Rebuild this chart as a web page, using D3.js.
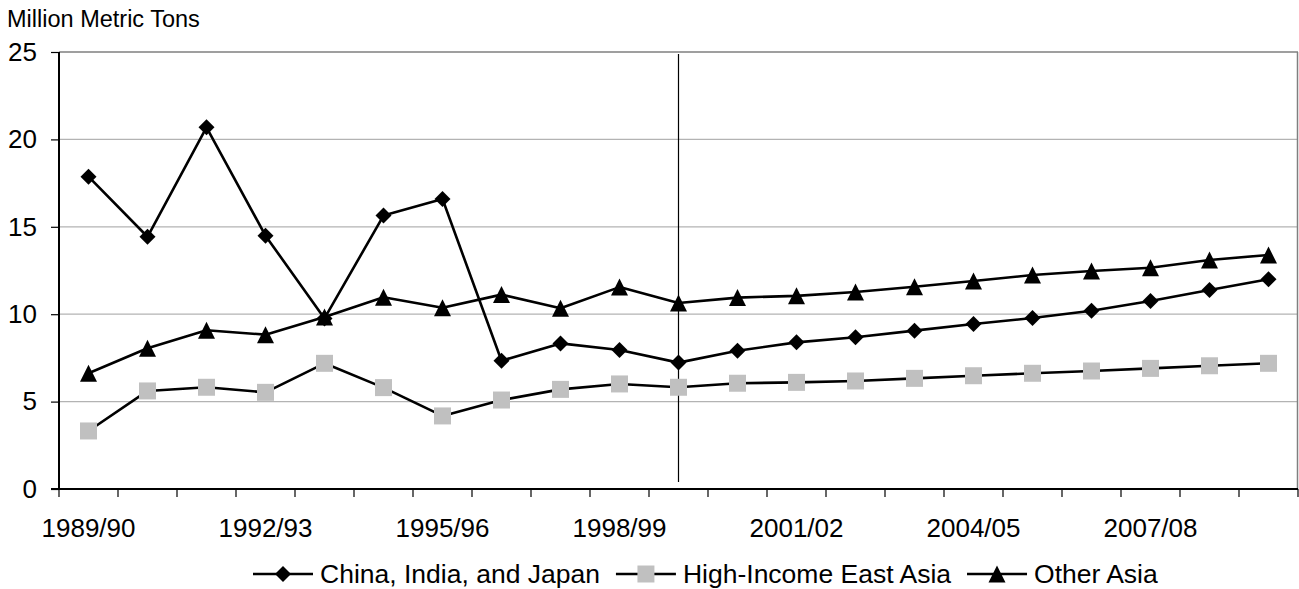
<!DOCTYPE html>
<html>
<head>
<meta charset="utf-8">
<script src="https://cdn.jsdelivr.net/npm/d3@7"></script>
<style>
  html, body { margin: 0; padding: 0; background: #ffffff; }
  svg { display: block; }
  text { font-family: "Liberation Sans", Arial, Helvetica, sans-serif; fill: #000; }
</style>
</head>
<body>
<svg id="chart" width="1299" height="589"></svg>
<script>
// ---- Data ----
const categories = ["1989/90","1990/91","1991/92","1992/93","1993/94","1994/95","1995/96",
  "1996/97","1997/98","1998/99","1999/00","2000/01","2001/02","2002/03","2003/04",
  "2004/05","2005/06","2006/07","2007/08","2008/09","2009/10"];
const tickLabels = ["1989/90","1992/93","1995/96","1998/99","2001/02","2004/05","2007/08"];
const yTicks = [0, 5, 10, 15, 20, 25];
const seriesNames = ["China, India, and Japan", "High-Income East Asia", "Other Asia"];
const chinaIndiaJapan = [17.87, 14.43, 20.69, 14.49, 9.76, 15.64, 16.59, 7.34, 8.33, 7.95, 7.23,
  7.91, 8.39, 8.68, 9.06, 9.44, 9.78, 10.2, 10.75, 11.38, 12.0];
const highIncomeEastAsia = [3.32, 5.61, 5.82, 5.53, 7.19, 5.8, 4.18, 5.09, 5.7, 6.01, 5.82,
  6.05, 6.1, 6.18, 6.33, 6.48, 6.62, 6.75, 6.9, 7.05, 7.19];
const otherAsia = [6.62, 8.05, 9.08, 8.83, 9.84, 10.97, 10.37, 11.12, 10.34, 11.55, 10.64,
  10.95, 11.05, 11.27, 11.57, 11.9, 12.24, 12.47, 12.66, 13.1, 13.39];
const dividerCategory = "1999/00";
const yTitle = "Million Metric Tons";

// ---- Layout ----
const svg = d3.select("#chart");
const pLeft = 59, pRight = 1298, pTop = 52, pBottom = 489;

const x = d3.scaleBand().domain(categories).range([pLeft, pRight]).paddingInner(0).paddingOuter(0);
const y = d3.scaleLinear().domain([0, 25]).range([pBottom, pTop]);
const cx = c => x(c) + x.bandwidth() / 2;

// gridlines
svg.append("g").selectAll("line").data(yTicks.filter(d => d > 0)).join("line")
  .attr("x1", pLeft).attr("x2", pRight)
  .attr("y1", d => y(d)).attr("y2", d => y(d))
  .attr("stroke", d => d === 25 ? "#7f7f7f" : "#b3b3b3")
  .attr("stroke-width", d => d === 25 ? 1.5 : 1.2);

// right border of plot area
svg.append("line").attr("x1", pRight - 0.5).attr("x2", pRight - 0.5)
  .attr("y1", pTop).attr("y2", pBottom).attr("stroke", "#7f7f7f").attr("stroke-width", 1.5);

// divider vertical line
svg.append("line")
  .attr("x1", cx(dividerCategory)).attr("x2", cx(dividerCategory))
  .attr("y1", pTop + 2).attr("y2", pBottom - 7)
  .attr("stroke", "#000").attr("stroke-width", 1.2);

// Y axis
const yAxis = d3.axisLeft(y).tickValues(yTicks).tickSize(8).tickPadding(14).tickFormat(d3.format("d"));
const gy = svg.append("g").attr("transform", `translate(${pLeft},0)`).call(yAxis);
gy.select(".domain").attr("stroke", "#000").attr("stroke-width", 2).attr("d", `M0,${pTop}V${pBottom}`);
gy.selectAll(".tick line").attr("stroke", "#000").attr("stroke-width", 1.2);
gy.selectAll(".tick text").style("font-size", "26px").style("font-family", "Liberation Sans, Arial, sans-serif").attr("fill", "#000");

// X axis (ticks between categories)
const boundaries = categories.map(c => x(c)).concat([pRight]);
svg.append("g").selectAll("line").data(boundaries).join("line")
  .attr("x1", d => d).attr("x2", d => d)
  .attr("y1", pBottom).attr("y2", pBottom + 8)
  .attr("stroke", "#000").attr("stroke-width", 1.2);
svg.append("line").attr("x1", pLeft - 8).attr("x2", pRight).attr("y1", pBottom).attr("y2", pBottom)
  .attr("stroke", "#000").attr("stroke-width", 2);
svg.append("g").selectAll("text").data(tickLabels).join("text")
  .attr("x", d => cx(d)).attr("y", 537)
  .attr("text-anchor", "middle")
  .style("font-size", "26px")
  .text(d => d);

// Y title
svg.append("text").attr("x", 7).attr("y", 27).style("font-size", "23.5px").text(yTitle);

// ---- Series ----
function diamondPath(s) { return `M0,${-s}L${s},0L0,${s}L${-s},0Z`; }
function squarePath(s) { return `M${-s},${-s}H${s}V${s}H${-s}Z`; }
function trianglePath(s) { return `M0,${-s}L${s},${s}H${-s}Z`; }

const series = [
  { name: seriesNames[0], values: chinaIndiaJapan, marker: diamondPath(8), fill: "#000" },
  { name: seriesNames[1], values: highIncomeEastAsia, marker: squarePath(8.5), fill: "#c0c0c0" },
  { name: seriesNames[2], values: otherAsia, marker: trianglePath(8.5), fill: "#000" }
];

const line = d3.line().x((d, i) => cx(categories[i])).y(d => y(d));

series.forEach(s => {
  svg.append("path").datum(s.values)
    .attr("d", line).attr("fill", "none")
    .attr("stroke", "#000").attr("stroke-width", 2.6).attr("stroke-linejoin", "round");
  svg.append("g").selectAll("path").data(s.values).join("path")
    .attr("d", s.marker)
    .attr("transform", (d, i) => `translate(${cx(categories[i])},${y(d)})`)
    .attr("fill", s.fill);
});

// ---- Legend ----
const legend = svg.append("g");
let lx = 253;
const ly = 574;
series.forEach(s => {
  const g = legend.append("g");
  g.append("line").attr("x1", lx).attr("x2", lx + 60).attr("y1", ly).attr("y2", ly)
    .attr("stroke", "#000").attr("stroke-width", 2.6);
  g.append("path").attr("d", s.marker).attr("transform", `translate(${lx + 30},${ly})`).attr("fill", s.fill);
  const t = g.append("text").attr("x", lx + 67).attr("y", ly + 9).style("font-size", "26.5px").text(s.name);
  const w = t.node().getComputedTextLength();
  lx = lx + 67 + w + 16;
});
</script>
</body>
</html>
